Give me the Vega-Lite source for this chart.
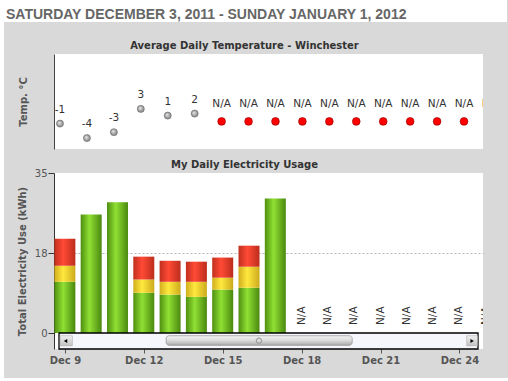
{
  "$schema": "https://vega.github.io/schema/vega-lite/v6.json",
  "background": "#d9d9d9",
  "padding": 0,
  "config": {
    "view": {"stroke": null},
    "font": "DejaVu Sans",
    "locale": {"number": {"decimal": ".", "thousands": ",", "grouping": [3], "currency": ["$", ""], "minus": "-"}}
  },
  "datasets": {
    "temperature": [
      {"date": "2011-12-09", "temp": -0.53},
      {"date": "2011-12-10", "temp": -4.0},
      {"date": "2011-12-11", "temp": -2.58},
      {"date": "2011-12-12", "temp": 2.98},
      {"date": "2011-12-13", "temp": 1.38},
      {"date": "2011-12-14", "temp": 1.86},
      {"date": "2011-12-15", "temp": null},
      {"date": "2011-12-16", "temp": null},
      {"date": "2011-12-17", "temp": null},
      {"date": "2011-12-18", "temp": null},
      {"date": "2011-12-19", "temp": null},
      {"date": "2011-12-20", "temp": null},
      {"date": "2011-12-21", "temp": null},
      {"date": "2011-12-22", "temp": null},
      {"date": "2011-12-23", "temp": null},
      {"date": "2011-12-24", "temp": null},
      {"date": "2011-12-25", "temp": null},
      {"date": "2011-12-26", "temp": null},
      {"date": "2011-12-27", "temp": null},
      {"date": "2011-12-28", "temp": null},
      {"date": "2011-12-29", "temp": null},
      {"date": "2011-12-30", "temp": null},
      {"date": "2011-12-31", "temp": null},
      {"date": "2012-01-01", "temp": null}
    ],
    "usage": [
      {"date": "2011-12-09", "tier": "Tier 1", "kwh": 11.2},
      {"date": "2011-12-09", "tier": "Tier 2", "kwh": 3.5},
      {"date": "2011-12-09", "tier": "Tier 3", "kwh": 5.9},
      {"date": "2011-12-10", "tier": "Tier 1", "kwh": 25.9},
      {"date": "2011-12-11", "tier": "Tier 1", "kwh": 28.6},
      {"date": "2011-12-12", "tier": "Tier 1", "kwh": 8.8},
      {"date": "2011-12-12", "tier": "Tier 2", "kwh": 2.9},
      {"date": "2011-12-12", "tier": "Tier 3", "kwh": 5.0},
      {"date": "2011-12-13", "tier": "Tier 1", "kwh": 8.4},
      {"date": "2011-12-13", "tier": "Tier 2", "kwh": 2.8},
      {"date": "2011-12-13", "tier": "Tier 3", "kwh": 4.6},
      {"date": "2011-12-14", "tier": "Tier 1", "kwh": 7.9},
      {"date": "2011-12-14", "tier": "Tier 2", "kwh": 3.3},
      {"date": "2011-12-14", "tier": "Tier 3", "kwh": 4.4},
      {"date": "2011-12-15", "tier": "Tier 1", "kwh": 9.5},
      {"date": "2011-12-15", "tier": "Tier 2", "kwh": 2.6},
      {"date": "2011-12-15", "tier": "Tier 3", "kwh": 4.4},
      {"date": "2011-12-16", "tier": "Tier 1", "kwh": 9.9},
      {"date": "2011-12-16", "tier": "Tier 2", "kwh": 4.6},
      {"date": "2011-12-16", "tier": "Tier 3", "kwh": 4.6},
      {"date": "2011-12-17", "tier": "Tier 1", "kwh": 29.4},
      {"date": "2011-12-18", "tier": null, "kwh": null},
      {"date": "2011-12-19", "tier": null, "kwh": null},
      {"date": "2011-12-20", "tier": null, "kwh": null},
      {"date": "2011-12-21", "tier": null, "kwh": null},
      {"date": "2011-12-22", "tier": null, "kwh": null},
      {"date": "2011-12-23", "tier": null, "kwh": null},
      {"date": "2011-12-24", "tier": null, "kwh": null},
      {"date": "2011-12-25", "tier": null, "kwh": null},
      {"date": "2011-12-26", "tier": null, "kwh": null},
      {"date": "2011-12-27", "tier": null, "kwh": null},
      {"date": "2011-12-28", "tier": null, "kwh": null},
      {"date": "2011-12-29", "tier": null, "kwh": null},
      {"date": "2011-12-30", "tier": null, "kwh": null},
      {"date": "2011-12-31", "tier": null, "kwh": null},
      {"date": "2012-01-01", "tier": null, "kwh": null}
    ]
  },
  "spacing": 0,
  "hconcat": [
    {"width": 4, "height": 378, "view": {"fill": "white"}, "data": {"values": []}, "mark": "point"},
    {
      "spacing": 11,
      "vconcat": [
        {
          "spacing": 0,
          "hconcat": [
            {
              "width": 503, "height": 22, "view": {"fill": "white"},
              "data": {"values": []}, "mark": "point",
              "title": {"text": "SATURDAY DECEMBER 3, 2011 - SUNDAY JANUARY 1, 2012", "anchor": "start", "frame": "group", "offset": -33, "dx": 2, "baseline": "alphabetic", "font": "Liberation Sans", "fontSize": 14, "fontWeight": "bold", "color": "#666666"}
            },
            {"width": 1, "height": 30, "data": {"values": []}, "mark": "point"}
          ]
        },
        {
          "spacing": 0,
          "bounds": "flush",
          "hconcat": [
            {"width": 50, "height": 95, "data": {"values": []}, "mark": "point"},
            {
              "width": 429, "height": 95,
              "view": {"fill": "white"},
              "title": {"text": "Average Daily Temperature - Winchester", "frame": "group", "anchor": "middle", "dx": -24, "offset": -5, "baseline": "alphabetic", "font": "DejaVu Sans", "fontSize": 10, "fontWeight": "bold", "color": "#333333"},
              "data": {"name": "temperature"},
              "encoding": {
                "x": {"field": "date", "type": "temporal", "scale": {"type": "utc", "domain": [{"year": 2011, "month": 12, "date": 8, "hours": 18, "minutes": 39, "utc": true}, {"year": 2011, "month": 12, "date": 24, "hours": 16, "minutes": 55, "utc": true}]}, "axis": null}
              },
              "layer": [
                {
                  "transform": [{"filter": "isValid(datum.temp)"}],
                  "mark": {"type": "point", "filled": true, "size": 50, "opacity": 1, "clip": true, "stroke": "#6f6f6f", "strokeWidth": 0.6,
                    "fill": {"gradient": "radial", "x1": 0.38, "y1": 0.35, "r1": 0, "x2": 0.5, "y2": 0.5, "r2": 0.55, "stops": [{"offset": 0, "color": "#f0f0f0"}, {"offset": 0.55, "color": "#a9a9a9"}, {"offset": 1, "color": "#7c7c7c"}]}},
                  "encoding": {
                    "y": {"field": "temp", "type": "quantitative", "scale": {"domain": [-6.6, 16.1], "nice": false},
                      "axis": {"title": "Temp. °C", "titleFont": "DejaVu Sans", "titleFontSize": 10, "titleFontWeight": "bold", "titleColor": "#555555", "titlePadding": 26, "ticks": false, "labels": false, "grid": false, "domainColor": "#444444", "domainWidth": 1}}
                  }
                },
                {
                  "transform": [{"filter": "isValid(datum.temp)"}],
                  "mark": {"type": "text", "dy": -14, "fontSize": 10.5, "color": "#333333", "clip": true},
                  "encoding": {
                    "y": {"field": "temp", "type": "quantitative"},
                    "text": {"field": "temp", "type": "quantitative", "format": ".0f"}
                  }
                },
                {
                  "transform": [{"filter": "!isValid(datum.temp)"}],
                  "mark": {"type": "point", "filled": true, "size": 60, "opacity": 1, "clip": true, "fill": "#ff0000", "stroke": "#8a0000", "strokeWidth": 0.6},
                  "encoding": {"y": {"datum": 0}}
                },
                {
                  "transform": [{"filter": "!isValid(datum.temp)"}],
                  "mark": {"type": "text", "dy": -17, "fontSize": 10.5, "color": "#333333", "clip": true},
                  "encoding": {"y": {"datum": 0}, "text": {"value": "N/A"}}
                }
              ]
            }
          ]
        },
        {
          "spacing": 0,
          "bounds": "flush",
          "hconcat": [
            {"width": 50, "height": 176, "data": {"values": []}, "mark": "point"},
            {
              "width": 429, "height": 176,
              "view": {"fill": "white"},
              "title": {"text": "My Daily Electricity Usage", "frame": "group", "anchor": "middle", "dx": -24, "offset": -10, "baseline": "alphabetic", "font": "DejaVu Sans", "fontSize": 10, "fontWeight": "bold", "color": "#333333"},
              "layer": [
                {
                  "data": {"name": "usage"},
                  "transform": [
                    {"stack": "kwh", "groupby": ["date"], "sort": [{"field": "tier", "order": "ascending"}], "as": ["lo", "hi"]},
                    {"filter": "datum.tier === 'Tier 1'"}
                  ],
                  "mark": {"type": "bar", "size": 21, "clip": true,
                    "fill": {"gradient": "linear", "x1": 0, "y1": 0, "x2": 1, "y2": 0, "stops": [{"offset": 0, "color": "#4f8f10"}, {"offset": 0.42, "color": "#90e034"}, {"offset": 1, "color": "#4a880e"}]}},
                  "encoding": {
                    "x": {"field": "date", "type": "temporal",
                      "scale": {"type": "utc", "domain": [{"year": 2011, "month": 12, "date": 8, "hours": 18, "minutes": 39, "utc": true}, {"year": 2011, "month": 12, "date": 24, "hours": 16, "minutes": 55, "utc": true}]},
                      "axis": {"values": [{"year": 2011, "month": 12, "date": 9, "utc": true}, {"year": 2011, "month": 12, "date": 12, "utc": true}, {"year": 2011, "month": 12, "date": 15, "utc": true}, {"year": 2011, "month": 12, "date": 18, "utc": true}, {"year": 2011, "month": 12, "date": 21, "utc": true}, {"year": 2011, "month": 12, "date": 24, "utc": true}],
                        "labelExpr": "utcFormat(datum.value, '%b %-d')", "title": null, "domain": false, "grid": false, "tickSize": 4, "tickColor": "#555555", "labelFont": "DejaVu Sans", "labelFontSize": 10, "labelFontWeight": "bold", "labelColor": "#555555", "labelPadding": 2, "labelFlush": false, "labelOverlap": false}},
                    "y": {"field": "hi", "type": "quantitative", "scale": {"domain": [-3.5, 35], "nice": false},
                      "axis": {"values": [0, 17.5, 35], "format": ".0f", "title": "Total Electricity Use (kWh)", "titleFont": "DejaVu Sans", "titleFontSize": 10, "titleFontWeight": "bold", "titleColor": "#555555", "titlePadding": 7,
                        "grid": true, "gridDash": [2, 2], "gridColor": "#b4b4b4", "gridOpacity": {"condition": {"test": "datum.value === 17.5", "value": 1}, "value": 0},
                        "tickSize": 6, "tickColor": "#333333", "domainColor": "#333333", "labelFont": "DejaVu Sans", "labelFontSize": 10, "labelColor": "#555555", "labelPadding": 1}},
                    "y2": {"field": "lo"}
                  }
                },
                {
                  "data": {"name": "usage"},
                  "transform": [
                    {"stack": "kwh", "groupby": ["date"], "sort": [{"field": "tier", "order": "ascending"}], "as": ["lo", "hi"]},
                    {"filter": "datum.tier === 'Tier 2'"}
                  ],
                  "mark": {"type": "bar", "size": 21, "clip": true,
                    "fill": {"gradient": "linear", "x1": 0, "y1": 0, "x2": 1, "y2": 0, "stops": [{"offset": 0, "color": "#d1ae1e"}, {"offset": 0.42, "color": "#ffe83e"}, {"offset": 1, "color": "#ccaa1c"}]}},
                  "encoding": {
                    "x": {"field": "date", "type": "temporal"},
                    "y": {"field": "hi", "type": "quantitative"},
                    "y2": {"field": "lo"}
                  }
                },
                {
                  "data": {"name": "usage"},
                  "transform": [
                    {"stack": "kwh", "groupby": ["date"], "sort": [{"field": "tier", "order": "ascending"}], "as": ["lo", "hi"]},
                    {"filter": "datum.tier === 'Tier 3'"}
                  ],
                  "mark": {"type": "bar", "size": 21, "clip": true,
                    "fill": {"gradient": "linear", "x1": 0, "y1": 0, "x2": 1, "y2": 0, "stops": [{"offset": 0, "color": "#c0301e"}, {"offset": 0.42, "color": "#ff4a36"}, {"offset": 1, "color": "#bc2d1c"}]}},
                  "encoding": {
                    "x": {"field": "date", "type": "temporal"},
                    "y": {"field": "hi", "type": "quantitative"},
                    "y2": {"field": "lo"}
                  }
                },
                {
                  "data": {"name": "usage"},
                  "transform": [{"filter": "datum.kwh === null"}],
                  "mark": {"type": "text", "angle": 270, "align": "left", "baseline": "middle", "dx": 8, "fontSize": 10.5, "color": "#333333", "clip": true},
                  "encoding": {
                    "x": {"field": "date", "type": "temporal"},
                    "y": {"datum": 0},
                    "text": {"value": "N/A"}
                  }
                },
                {
                  "data": {"values": [{"widget": "scrollbar"}]},
                  "mark": {"type": "rect", "fill": "#f6f7fc", "stroke": "#000000", "strokeWidth": 1.3},
                  "encoding": {
                    "x": {"datum": {"year": 2011, "month": 12, "date": 8, "hours": 18, "minutes": 39, "utc": true}, "type": "temporal"},
                    "x2": {"datum": {"year": 2011, "month": 12, "date": 24, "hours": 16, "minutes": 55, "utc": true}},
                    "y": {"datum": 0},
                    "y2": {"datum": -3.5}
                  }
                },
                {
                  "data": {"values": [{"widget": "scroll-left"}]},
                  "mark": {"type": "rect", "stroke": "#a0a0a0", "strokeWidth": 0.5,
                    "fill": {"gradient": "linear", "x1": 0, "y1": 0, "x2": 0, "y2": 1, "stops": [{"offset": 0, "color": "#f2f2f2"}, {"offset": 1, "color": "#c2c2c2"}]}},
                  "encoding": {
                    "x": {"datum": {"year": 2011, "month": 12, "date": 8, "hours": 19, "minutes": 43, "utc": true}, "type": "temporal"},
                    "x2": {"datum": {"year": 2011, "month": 12, "date": 9, "hours": 6, "minutes": 52, "utc": true}},
                    "y": {"datum": -0.6},
                    "y2": {"datum": -2.8}
                  }
                },
                {
                  "data": {"values": [{"widget": "scroll-right"}]},
                  "mark": {"type": "rect", "stroke": "#a0a0a0", "strokeWidth": 0.5,
                    "fill": {"gradient": "linear", "x1": 0, "y1": 0, "x2": 0, "y2": 1, "stops": [{"offset": 0, "color": "#f2f2f2"}, {"offset": 1, "color": "#c2c2c2"}]}},
                  "encoding": {
                    "x": {"datum": {"year": 2011, "month": 12, "date": 24, "hours": 6, "minutes": 36, "utc": true}, "type": "temporal"},
                    "x2": {"datum": {"year": 2011, "month": 12, "date": 24, "hours": 16, "minutes": 30, "utc": true}},
                    "y": {"datum": -0.6},
                    "y2": {"datum": -2.8}
                  }
                },
                {
                  "data": {"values": [{"widget": "scroll-thumb"}]},
                  "mark": {"type": "rect", "cornerRadius": 3, "stroke": "#8c8c8c", "strokeWidth": 0.7,
                    "fill": {"gradient": "linear", "x1": 0, "y1": 0, "x2": 0, "y2": 1, "stops": [{"offset": 0, "color": "#f5f5f5"}, {"offset": 0.5, "color": "#dadada"}, {"offset": 1, "color": "#a9a9a9"}]}},
                  "encoding": {
                    "x": {"datum": {"year": 2011, "month": 12, "date": 12, "hours": 20, "minutes": 24, "utc": true}, "type": "temporal"},
                    "x2": {"datum": {"year": 2011, "month": 12, "date": 19, "hours": 22, "minutes": 9, "utc": true}},
                    "y": {"datum": -0.6},
                    "y2": {"datum": -2.7}
                  }
                },
                {
                  "data": {"values": [{"widget": "scroll-left-arrow"}]},
                  "mark": {"type": "point", "shape": "triangle-left", "size": 16, "filled": true, "fill": "#000000", "opacity": 1},
                  "encoding": {
                    "x": {"datum": {"year": 2011, "month": 12, "date": 9, "hours": 0, "minutes": 37, "utc": true}, "type": "temporal"},
                    "y": {"datum": -1.75}
                  }
                },
                {
                  "data": {"values": [{"widget": "scroll-right-arrow"}]},
                  "mark": {"type": "point", "shape": "triangle-right", "size": 16, "filled": true, "fill": "#000000", "opacity": 1},
                  "encoding": {
                    "x": {"datum": {"year": 2011, "month": 12, "date": 24, "hours": 11, "minutes": 35, "utc": true}, "type": "temporal"},
                    "y": {"datum": -1.75}
                  }
                },
                {
                  "data": {"values": [{"widget": "scroll-grip"}]},
                  "mark": {"type": "point", "shape": "circle", "size": 28, "filled": false, "stroke": "#a0a0a0", "strokeWidth": 1.2, "opacity": 1},
                  "encoding": {
                    "x": {"datum": {"year": 2011, "month": 12, "date": 16, "hours": 9, "minutes": 4, "utc": true}, "type": "temporal"},
                    "y": {"datum": -1.7}
                  }
                }
              ]
            }
          ]
        }
      ]
    }
  ]
}
